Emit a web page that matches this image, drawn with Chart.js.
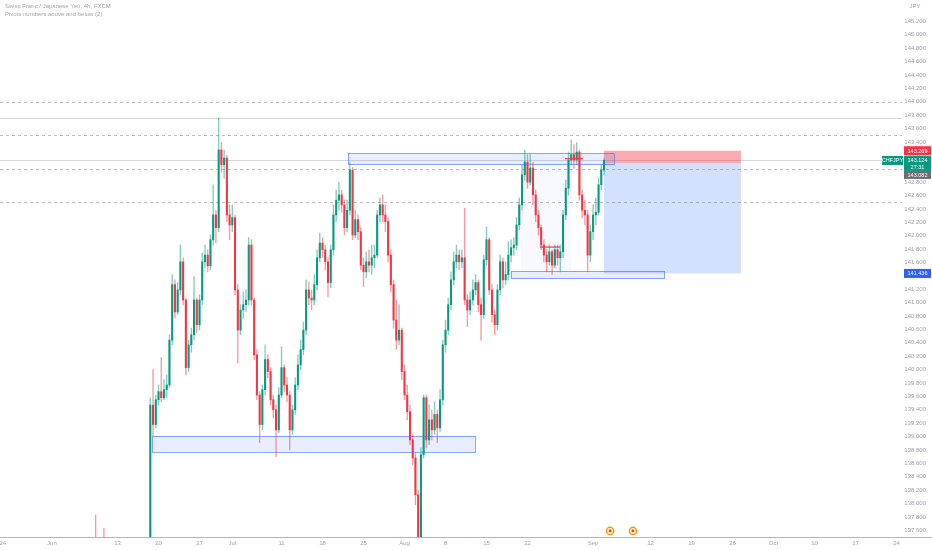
<!DOCTYPE html>
<html lang="en">
<head>
<meta charset="UTF-8">
<title>CHFJPY 4h</title>
<script src="https://cdn.jsdelivr.net/npm/chart.js@4.4.0/dist/chart.umd.min.js"></script>
<style>
  html, body { margin: 0; padding: 0; background: #fff; }
  .wrap { position: relative; width: 932px; height: 550px; }
  .legend {
    position: absolute; left: 5px; top: 2px;
    font-family: "Liberation Sans", Arial, sans-serif;
    font-size: 6px; line-height: 8px; color: #a3a6af;
  }
</style>
</head>
<body>
<div class="wrap">
  <canvas id="chart"></canvas>
  <div class="legend">Swiss Franc / Japanese Yen, 4h, FXCM<br>Pivots numbers above and below (2)</div>
</div>
<script>
// candle index = trading slot (3 per day), first candles sit below the view
const startIndex = 33;
const firstOpen = 136.70;
const closes = [
  136.90,137.10,136.95,137.05,137.15,136.90,136.60,136.20,135.80,135.50,135.20,134.90,134.60,134.40,134.70,134.50,134.30,134.10,134.40,134.20,134.50,134.70,
  139.47,139.18,139.55,139.67,139.58,139.70,139.77,140.44,141.27,140.86,
  141.19,141.61,141.04,140.03,140.37,140.52,141.04,140.67,141.04,141.61,
  141.71,141.55,141.94,142.31,142.12,143.28,143.06,143.16,142.31,142.16,
  142.27,141.19,140.59,140.89,140.97,141.04,141.86,141.04,140.22,139.62,
  139.18,139.70,140.15,139.97,139.55,139.40,139.10,139.62,140.03,139.77,
  139.62,139.10,139.40,139.77,140.07,140.30,140.59,141.19,141.07,141.04,
  141.27,141.67,141.89,141.79,141.61,141.30,141.79,142.31,142.53,142.61,
  142.46,142.12,142.38,142.98,142.01,142.24,142.06,141.56,141.46,141.61,
  141.56,141.67,141.71,142.31,142.46,142.31,142.21,141.71,141.27,140.74,
  140.44,140.59,139.97,139.62,139.37,138.95,138.68,138.13,137.45,138.73,
  139.58,138.95,139.25,139.10,139.33,139.13,139.55,140.37,140.59,140.97,
  141.34,141.61,141.71,141.61,141.67,141.04,140.89,141.04,141.19,141.30,
  140.97,140.82,141.64,141.94,141.19,140.82,140.67,141.19,141.61,141.34,
  141.42,141.71,141.82,141.86,142.16,142.46,142.91,143.10,142.80,143.01,
  142.61,142.31,142.12,141.86,141.71,141.61,141.76,141.56,141.79,141.67,
  141.76,142.31,142.71,143.13,143.21,143.13,143.25,142.61,142.38,142.31,
  141.71,142.06,142.31,142.35,142.76,142.98,143.124
];
const highs = [
  137.05,137.25,137.83,137.20,137.30,137.63,137.00,136.70,136.30,135.90,135.60,135.30,135.00,134.70,134.90,134.80,134.60,134.40,134.60,134.50,134.70,134.90,
  139.58,140.00,139.62,139.77,140.18,139.85,139.92,140.52,141.42,141.34,
  141.30,141.86,141.67,141.07,140.44,140.62,141.39,141.07,141.12,141.74,
  141.86,141.79,142.01,142.76,142.38,143.76,143.39,143.28,143.20,142.46,
  142.46,142.31,141.27,140.97,141.16,141.19,141.97,141.94,141.07,140.30,
  139.67,139.77,140.37,140.22,140.03,139.62,139.47,139.73,140.34,140.07,
  139.88,139.67,139.47,139.88,140.22,140.44,140.71,141.34,141.31,141.19,
  141.42,141.79,142.04,141.97,141.86,141.67,141.86,142.46,142.68,142.80,
  142.68,142.53,142.53,143.09,143.02,142.38,142.31,142.12,141.67,141.76,
  141.79,141.86,141.86,142.38,142.56,142.61,142.46,142.27,141.79,141.34,
  141.04,140.97,140.62,140.07,139.77,139.47,139.03,138.76,138.20,138.83,
  139.62,139.62,139.47,139.40,139.52,139.40,139.70,140.44,140.74,141.07,
  141.46,141.76,141.86,141.79,141.79,142.41,141.12,141.16,141.34,141.42,
  141.34,141.07,141.71,142.13,141.97,141.27,140.89,141.27,141.71,141.67,
  141.61,141.91,141.94,141.97,142.27,142.56,143.06,143.28,143.21,143.21,
  143.10,142.68,142.38,142.16,141.94,141.79,141.86,141.79,141.86,141.86,
  141.86,142.38,142.83,143.25,143.43,143.36,143.39,143.28,142.68,142.53,
  142.38,142.16,142.46,142.56,142.86,143.06,143.16
];
const lows = [
  136.50,136.80,136.80,136.85,136.90,136.70,136.40,136.00,135.60,135.30,135.00,134.70,134.40,134.20,134.30,134.30,134.10,133.90,134.00,134.00,134.10,134.40,
  134.60,139.01,139.13,139.47,139.52,139.55,139.58,139.73,140.37,140.77,
  140.82,141.12,140.97,139.92,139.97,140.26,140.44,140.55,140.59,140.97,
  141.52,141.46,141.49,141.86,141.89,142.06,142.95,142.86,142.21,141.94,
  142.06,141.12,140.10,140.52,140.77,140.86,140.97,140.97,140.15,139.55,
  138.91,139.10,139.62,139.88,139.47,139.28,138.70,139.06,139.58,139.67,
  139.52,138.80,139.03,139.33,139.70,140.00,140.22,140.52,140.97,140.89,
  140.97,141.19,141.61,141.67,141.49,141.09,141.22,141.71,142.21,142.38,
  142.35,142.01,142.06,142.31,141.94,141.97,141.94,141.49,141.24,141.37,
  141.46,141.42,141.52,141.67,142.21,142.21,142.06,141.61,141.16,140.62,
  140.30,140.37,139.85,139.55,139.25,138.88,138.58,137.98,137.25,137.40,
  138.68,138.83,138.88,138.95,139.03,138.91,139.07,139.47,140.26,140.52,
  140.89,141.27,141.52,141.49,141.52,140.97,140.64,140.82,140.97,141.12,
  140.86,140.44,140.77,141.56,141.12,140.71,140.52,140.59,141.12,141.22,
  141.27,141.34,141.61,141.71,141.79,142.09,142.38,142.83,142.71,142.76,
  142.46,142.21,142.01,141.79,141.61,141.46,141.56,141.42,141.52,141.56,
  141.46,141.67,142.24,142.61,143.06,143.01,143.06,142.53,142.27,142.16,
  141.46,141.61,141.94,142.16,142.31,142.68,142.91
];

// time axis labels (position in candle slots)
const xTickPos = [1, 19, 43, 58, 73, 85, 103, 118, 133, 148, 163, 178, 193, 217, 238, 253, 268, 283, 298, 313, 328];
const xTickText = ['24','Jun','13','20','27','Jul','11','18','25','Aug','8','15','22','Sep','12','19','26','Oct','10','17','24'];
const yTickValues = [145.2,145.0,144.8,144.6,144.4,144.2,144.0,143.8,143.6,143.4,143.2,143.0,142.8,142.6,142.4,142.2,142.0,
  141.8,141.6,141.4,141.2,141.0,140.8,140.6,140.4,140.2,140.0,139.8,139.6,139.4,139.2,139.0,138.8,138.6,138.4,138.2,138.0,137.8,137.6];

// drawings
const dashedLevels = [144.0, 143.5, 143.0, 142.5];
const solidLevels = [143.76, 143.124];
const levelEnd = 330;
const zones = [[127.3, 224.6, 143.23, 143.06], [55.6, 173.8, 139.01, 138.77], [187.0, 242.9, 141.47, 141.36]];
const faintBand = [190.5, 209, 143.06, 141.47];
const positionX = [221.0, 271.1];
const entryPrice = 143.082;
const stopPrice = 143.269;
const targetPrice = 141.436;
const lastPrice = 143.124;
const pivotMarks = [[197.6, 204.9, 141.83], [206.7, 213.3, 143.15]];
const eventX = [223.2, 231.6];
const eventY = 137.59;

const GREEN = '#089981';
const RED = '#f23645';
const FONT = '"Liberation Sans", Arial, sans-serif';

const candles = closes.map((c, k) => {
  const o = k === 0 ? firstOpen : closes[k - 1];
  return { x: startIndex + k, o: o, c: c, h: highs[k], l: lows[k], up: c >= o };
});

const bodyData = candles.map(d => ({ x: d.x, y: [d.o, d.c], up: d.up }));
const wickData = candles.map(d => ({ x: d.x, y: [d.l, d.h], up: d.up }));

function tag(ctx, x0, w, top, h, bg, lines) {
  ctx.fillStyle = bg;
  ctx.fillRect(x0, top, w, h);
  ctx.fillStyle = '#fff';
  ctx.font = '5.5px ' + FONT;
  ctx.textAlign = 'center';
  ctx.textBaseline = 'middle';
  const lh = h / lines.length;
  lines.forEach((t, i) => ctx.fillText(t, x0 + w / 2, top + (i + 0.5) * lh + 0.5));
}

const drawings = {
  id: 'drawings',
  beforeDatasetsDraw(chart) {
    const { ctx, chartArea, scales: { x, y } } = chart;
    ctx.save();
    ctx.beginPath();
    ctx.rect(chartArea.left, chartArea.top, chartArea.width, chartArea.height);
    ctx.clip();
    const xEnd = x.getPixelForValue(levelEnd);

    ctx.lineWidth = 1;
    ctx.strokeStyle = '#d6d8de';
    solidLevels.forEach(p => {
      const py = Math.round(y.getPixelForValue(p)) + 0.5;
      ctx.beginPath(); ctx.moveTo(0, py); ctx.lineTo(xEnd, py); ctx.stroke();
    });
    ctx.setLineDash([3, 3]);
    ctx.strokeStyle = '#b8bbc4';
    dashedLevels.forEach(p => {
      const py = Math.round(y.getPixelForValue(p)) + 0.5;
      ctx.beginPath(); ctx.moveTo(0, py); ctx.lineTo(xEnd, py); ctx.stroke();
    });
    ctx.setLineDash([]);

    // faint band
    const fx0 = x.getPixelForValue(faintBand[0]), fx1 = x.getPixelForValue(faintBand[1]);
    const fy0 = y.getPixelForValue(faintBand[2]), fy1 = y.getPixelForValue(faintBand[3]);
    ctx.fillStyle = 'rgba(41,98,255,0.04)';
    ctx.fillRect(fx0, fy0, fx1 - fx0, fy1 - fy0);

    // short position
    const px0 = x.getPixelForValue(positionX[0]), px1 = x.getPixelForValue(positionX[1]);
    const yStop = y.getPixelForValue(stopPrice), yEntry = y.getPixelForValue(entryPrice), yTarget = y.getPixelForValue(targetPrice);
    ctx.fillStyle = 'rgba(242,54,69,0.42)';
    ctx.fillRect(px0, yStop, px1 - px0, yEntry - yStop);
    ctx.fillStyle = 'rgba(41,98,255,0.2)';
    ctx.fillRect(px0, yEntry, px1 - px0, yTarget - yEntry);

    // zones
    zones.forEach(z => {
      const x0 = x.getPixelForValue(z[0]), x1 = x.getPixelForValue(z[1]);
      const y0 = y.getPixelForValue(z[2]), y1 = y.getPixelForValue(z[3]);
      ctx.fillStyle = 'rgba(41,98,255,0.11)';
      ctx.fillRect(x0, y0, x1 - x0, y1 - y0);
      ctx.strokeStyle = 'rgba(41,98,255,0.55)';
      ctx.strokeRect(Math.round(x0) + 0.5, Math.round(y0) + 0.5, Math.round(x1 - x0), Math.round(y1 - y0));
    });
    ctx.restore();
  },
  afterDraw(chart) {
    const { ctx, scales: { y } } = chart;
    ctx.save();
    ctx.fillStyle = '#a0a3ab';
    ctx.font = '6px ' + FONT;
    ctx.textAlign = 'center';
    ctx.textBaseline = 'middle';
    ctx.fillText('JPY', 915, 6);

    const yLast = y.getPixelForValue(lastPrice);
    tag(ctx, 904, 27, y.getPixelForValue(stopPrice) - 4.5, 9, RED, [stopPrice.toFixed(3)]);
    tag(ctx, 904, 27, yLast - 4.5, 15, GREEN, [lastPrice.toFixed(3), '27:31']);
    tag(ctx, 882, 21, yLast - 4.5, 9, GREEN, ['CHFJPY']);
    tag(ctx, 904, 27, yLast + 10.5, 8, '#6a6d78', [entryPrice.toFixed(3)]);
    tag(ctx, 904, 27, y.getPixelForValue(targetPrice) - 4.5, 9, '#2962ff', [targetPrice.toFixed(3)]);
    ctx.restore();
  }
};

Chart.defaults.font.family = FONT;

new Chart(document.getElementById('chart'), {
  type: 'bar',
  data: {
    datasets: [
      {
        type: 'line',
        data: [{ x: pivotMarks[0][0], y: pivotMarks[0][2] }, { x: pivotMarks[0][1], y: pivotMarks[0][2] }],
        borderColor: RED, borderWidth: 1.2, pointRadius: 0
      },
      {
        type: 'line',
        data: [{ x: pivotMarks[1][0], y: pivotMarks[1][2] }, { x: pivotMarks[1][1], y: pivotMarks[1][2] }],
        borderColor: RED, borderWidth: 1.2, pointRadius: 0
      },
      {
        type: 'line', showLine: false,
        data: eventX.map(v => ({ x: v, y: eventY })),
        pointRadius: 1.4, pointBackgroundColor: RED, pointBorderWidth: 0
      },
      {
        type: 'line', showLine: false,
        data: eventX.map(v => ({ x: v, y: eventY })),
        pointRadius: 3.6, pointBackgroundColor: '#fff3e0', pointBorderColor: '#ff9800', pointBorderWidth: 1.5
      },
      {
        data: bodyData, grouped: false, barThickness: 1.4, borderWidth: 0,
        backgroundColor: ctx => (ctx.raw && ctx.raw.up) ? GREEN : RED
      },
      {
        data: wickData, grouped: false, barThickness: 0.7, borderWidth: 0,
        backgroundColor: ctx => (ctx.raw && ctx.raw.up) ? 'rgba(8,153,129,0.5)' : 'rgba(242,54,69,0.5)'
      }
    ]
  },
  options: {
    responsive: true,
    maintainAspectRatio: false,
    animation: false,
    layout: { padding: 0, autoPadding: false },
    plugins: { legend: { display: false }, tooltip: { enabled: false } },
    scales: {
      x: {
        type: 'linear', min: 0, max: 341, offset: false,
        afterBuildTicks: s => { s.ticks = xTickPos.map(v => ({ value: v })); },
        afterFit: s => { s.height = 13; s.paddingLeft = 0; s.paddingRight = 0; },
        ticks: {
          autoSkip: false, maxRotation: 0, padding: 3,
          color: '#a0a3ab', font: { size: 6 },
          callback: (v, i) => xTickText[i]
        },
        grid: { display: false, drawTicks: false },
        border: { display: true, color: '#b2b5be' }
      },
      y: {
        position: 'right', min: 137.5, max: 145.52,
        afterBuildTicks: s => { s.ticks = yTickValues.map(v => ({ value: v })); },
        afterFit: s => { s.width = 0; s.paddingTop = 0; s.paddingBottom = 0; },
        ticks: {
          mirror: true, padding: -6, autoSkip: false,
          color: '#a0a3ab', font: { size: 6 },
          callback: v => v.toFixed(3)
        },
        grid: { display: false, drawTicks: false },
        border: { display: false }
      }
    }
  },
  plugins: [drawings]
});
</script>
</body>
</html>
